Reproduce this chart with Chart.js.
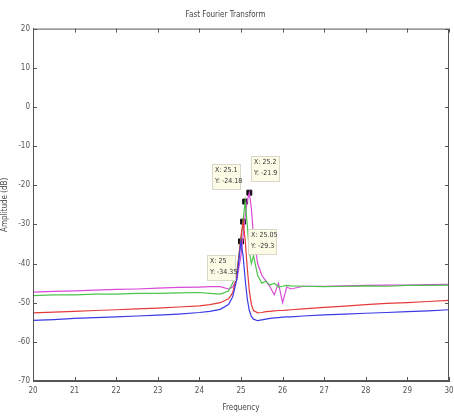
<!DOCTYPE html>
<html>
<head>
<meta charset="utf-8">
<script src="https://cdn.jsdelivr.net/npm/chart.js@4/dist/chart.umd.min.js"></script>
<style>
html,body{margin:0;padding:0;background:#fff;}
#wrap{width:454px;height:417px;}
</style>
</head>
<body>
<div id="wrap"><canvas id="c" width="454" height="417"></canvas></div>
<script>
const freq = [20, 20.5, 21, 21.5, 22, 22.5, 23, 23.5, 24, 24.25, 24.5, 24.7, 24.8, 24.9, 24.95, 25, 25.05, 25.1, 25.15, 25.2, 25.25, 25.3, 25.4, 25.5, 25.6, 25.7, 25.8, 25.9, 26, 26.1, 26.2, 26.5, 27, 27.5, 28, 28.5, 29, 29.5, 30];
const blueVals = [-54.5, -54.3, -54.0, -53.8, -53.6, -53.4, -53.2, -52.9, -52.5, -52.2, -51.7, -50.5, -48.5, -44, -39, -34.35, -38, -44, -49, -52, -53.5, -54.2, -54.6, -54.4, -54.2, -54.0, -53.9, -53.8, -53.7, -53.6, -53.6, -53.4, -53.1, -52.9, -52.7, -52.5, -52.3, -52.1, -51.8];
const redVals = [-52.6, -52.4, -52.2, -52.0, -51.8, -51.6, -51.4, -51.1, -50.8, -50.5, -50.0, -49.0, -47.5, -43, -38, -33, -29.3, -34, -41, -47, -50.5, -52, -52.6, -52.5, -52.3, -52.2, -52.1, -52.0, -52.0, -51.9, -51.8, -51.6, -51.2, -50.9, -50.5, -50.2, -50.0, -49.7, -49.4];
const greenVals = [-48.2, -48.0, -48.0, -47.8, -47.8, -47.6, -47.6, -47.5, -47.4, -47.6, -47.8, -47.0, -45, -42, -38, -34, -29, -24.18, -30, -37, -40, -38, -43, -45, -44.5, -45.5, -45, -46, -45.8, -45.6, -45.7, -45.8, -45.9, -45.8, -45.7, -45.8, -45.6, -45.6, -45.5];
const magentaVals = [-47.3, -47.1, -47.0, -46.8, -46.6, -46.5, -46.3, -46.1, -46.0, -45.9, -45.9, -46.5, -46, -44, -41, -38, -33, -28, -24, -21.9, -26, -33, -40, -43, -44.5, -46, -48, -45, -50, -46, -46.5, -45.8, -45.8, -45.7, -45.6, -45.5, -45.5, -45.4, -45.3];

const tipX = [25, 25.05, 25.1, 25.2];
const tipY = [-34.35, -29.3, -24.18, -21.9];
const tipText = [["X: 25", "Y: -34.35"], ["X: 25.05", "Y: -29.3"], ["X: 25.1", "Y: -24.18"], ["X: 25.2", "Y: -21.9"]];
const tipOffset = [[-34, 14], [5, 7], [-33, -38], [2, -37]];

const xTicks = [20, 21, 22, 23, 24, 25, 26, 27, 28, 29, 30];
const yTicks = [20, 10, 0, -10, -20, -30, -40, -50, -60, -70];

const FONT = "'Liberation Sans Narrow','DejaVu Sans Condensed','Liberation Sans',sans-serif";

function pts(vals){ return freq.map((f,i)=>({x:f, y:vals[i]})); }

const boxPlugin = {
  id: 'boxTicks',
  afterDraw(chart){
    const {ctx, chartArea:a, scales:{x, y}} = chart;
    ctx.save();
    ctx.strokeStyle = '#555';
    ctx.lineWidth = 1;
    ctx.strokeRect(a.left+0.5, a.top+0.5, a.right-a.left-1, a.bottom-a.top-1);
    ctx.beginPath();
    xTicks.forEach(v=>{
      const px = Math.round(x.getPixelForValue(v))+0.5;
      ctx.moveTo(px, a.bottom); ctx.lineTo(px, a.bottom-4);
      ctx.moveTo(px, a.top); ctx.lineTo(px, a.top+4);
    });
    yTicks.forEach(v=>{
      const py = Math.round(y.getPixelForValue(v))+0.5;
      ctx.moveTo(a.left, py); ctx.lineTo(a.left+4, py);
      ctx.moveTo(a.right, py); ctx.lineTo(a.right-4, py);
    });
    ctx.stroke();
    // datatips
    ctx.font = "7px " + FONT;
    ctx.textBaseline = 'top';
    tipX.forEach((tx,i)=>{
      const px = x.getPixelForValue(tx), py = y.getPixelForValue(tipY[i]);
      const bx = Math.round(px + tipOffset[i][0]), by = Math.round(py + tipOffset[i][1]);
      const w = 28, h = 25;
      ctx.fillStyle = '#fbfbe6';
      ctx.fillRect(bx, by, w, h);
      ctx.strokeStyle = '#d8d8c8';
      ctx.strokeRect(bx+0.5, by+0.5, w, h);
      ctx.fillStyle = '#333';
      ctx.fillText(tipText[i][0], bx+3, by+3);
      ctx.fillText(tipText[i][1], bx+3, by+14);
    });
    ctx.restore();
  }
};

new Chart(document.getElementById('c'), {
  type: 'line',
  data: {
    datasets: [
      {label:'Blue', data: pts(blueVals), borderColor:'#3a3ae6', borderWidth:1.2, pointRadius:0, tension:0},
      {label:'Red', data: pts(redVals), borderColor:'#e63a3a', borderWidth:1.2, pointRadius:0, tension:0},
      {label:'Green', data: pts(greenVals), borderColor:'#4cc44c', borderWidth:1.2, pointRadius:0, tension:0},
      {label:'Magenta', data: pts(magentaVals), borderColor:'#d84ad8', borderWidth:1.2, pointRadius:0, tension:0},
      {label:'Tips', type:'scatter', data: tipX.map((v,i)=>({x:v, y:tipY[i]})), pointStyle:'rect', pointRadius:3.5, backgroundColor:'#111', borderColor:'#111', showLine:false}
    ]
  },
  options: {
    responsive: false,
    animation: false,
    layout: {padding: {top: 0, right: 3, left: 0, bottom: 4}},
    plugins: {
      legend: {display: false},
      tooltip: {enabled: false},
      title: {display: true, text: 'Fast Fourier Transform', color:'#444', font:{family: FONT, size: 8, weight:'normal'}, padding:{top:10, bottom:9}}
    },
    scales: {
      x: {
        type: 'linear', min: 20, max: 30,
        afterBuildTicks: s => { s.ticks = xTicks.map(v=>({value:v})); },
        afterFit: s => { s.height = 32; s.paddingLeft = 0; s.paddingRight = 0; },
        grid: {display: false, drawTicks: false},
        border: {display: true, color:'#555'},
        ticks: {color:'#555', font:{family: FONT, size: 8}, padding: 5, maxRotation: 0},
        title: {display: true, text: 'Frequency', color:'#444', font:{family: FONT, size: 8}, padding:{top:3, bottom:0}}
      },
      y: {
        type: 'linear', min: -70, max: 20,
        afterBuildTicks: s => { s.ticks = yTicks.map(v=>({value:v})); },
        afterFit: s => { s.width = 33; s.paddingTop = 0; s.paddingBottom = 0; },
        grid: {display: false, drawTicks: false},
        border: {display: true, color:'#555'},
        ticks: {color:'#555', font:{family: FONT, size: 8}, padding: 3},
        title: {display: true, text: 'Amplitude (dB)', color:'#444', font:{family: FONT, size: 8}, padding:{top:0, bottom:2}}
      }
    }
  },
  plugins: [boxPlugin]
});
</script>
</body>
</html>
